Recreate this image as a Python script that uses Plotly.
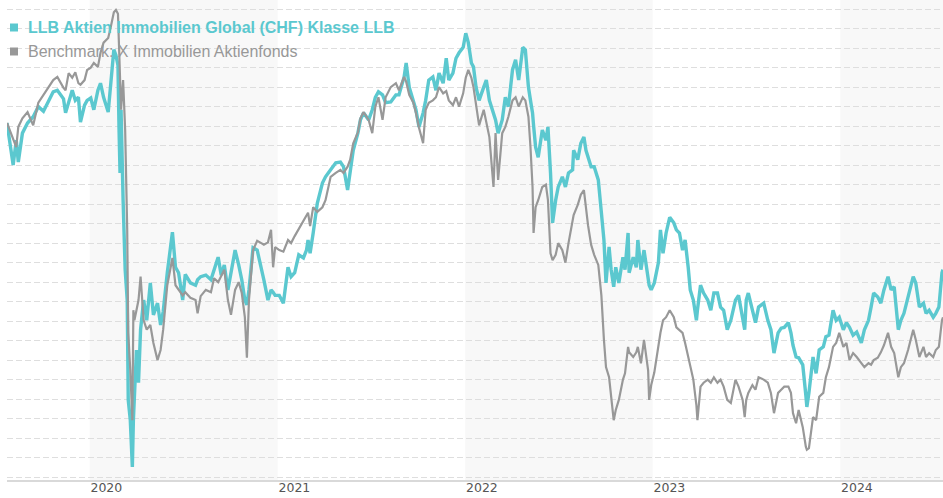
import plotly.graph_objects as go

# ---- data (performance in %) ----
dates = [
 "2019-07-24","2019-08-05","2019-08-11","2019-08-15","2019-08-23","2019-09-02","2019-09-13","2019-09-23",
 "2019-10-03","2019-10-12","2019-10-22","2019-10-30","2019-11-05","2019-11-11","2019-11-15","2019-11-21",
 "2019-11-28","2019-12-04","2019-12-10","2019-12-14","2019-12-22","2019-12-27","2020-01-03","2020-01-09",
 "2020-01-17","2020-01-22","2020-01-28","2020-02-06","2020-02-11","2020-02-17","2020-02-21","2020-02-25",
 "2020-02-27","2020-02-29","2020-03-01","2020-03-02","2020-03-06","2020-03-08","2020-03-10","2020-03-14",
 "2020-03-16","2020-03-20","2020-03-24","2020-03-26","2020-03-28","2020-04-01","2020-04-05","2020-04-09",
 "2020-04-15","2020-04-21","2020-04-28","2020-05-04","2020-05-12","2020-05-18","2020-05-23","2020-05-31",
 "2020-06-10","2020-06-16","2020-06-22","2020-06-30","2020-07-05","2020-07-15","2020-07-25","2020-07-29",
 "2020-08-04","2020-08-14","2020-08-24","2020-08-30","2020-09-07","2020-09-13","2020-09-19","2020-09-26",
 "2020-10-02","2020-10-10","2020-10-17","2020-10-23","2020-10-29","2020-11-02","2020-11-06","2020-11-14",
 "2020-11-22","2020-11-30","2020-12-05","2020-12-13","2020-12-19","2020-12-23","2020-12-27","2021-01-04",
 "2021-01-12","2021-01-21","2021-01-27","2021-02-03","2021-02-11","2021-02-20","2021-02-26","2021-03-01",
 "2021-03-05","2021-03-11","2021-03-19","2021-03-29","2021-04-04","2021-04-14","2021-04-24","2021-05-03",
 "2021-05-09","2021-05-17","2021-05-22","2021-05-28","2021-06-06","2021-06-11","2021-06-17","2021-06-27",
 "2021-07-04","2021-07-10","2021-07-16","2021-07-24","2021-07-30","2021-08-09","2021-08-19","2021-08-25",
 "2021-09-04","2021-09-08","2021-09-14","2021-09-22","2021-09-27","2021-10-03","2021-10-11","2021-10-16",
 "2021-10-22","2021-10-30","2021-11-05","2021-11-11","2021-11-19","2021-11-25","2021-11-30","2021-12-08",
 "2021-12-14","2021-12-20","2021-12-28","2022-01-02","2022-01-07","2022-01-13","2022-01-17","2022-01-22",
 "2022-01-28","2022-02-06","2022-02-11","2022-02-17","2022-02-25","2022-03-01","2022-03-06","2022-03-14",
 "2022-03-20","2022-03-26","2022-04-03","2022-04-09","2022-04-15","2022-04-23","2022-04-28","2022-05-04",
 "2022-05-08","2022-05-12","2022-05-14","2022-05-18","2022-05-23","2022-05-31","2022-06-07","2022-06-11",
 "2022-06-16","2022-06-20","2022-06-26","2022-07-01","2022-07-09","2022-07-15","2022-07-21","2022-07-29",
 "2022-07-31","2022-08-08","2022-08-14","2022-08-20","2022-08-24","2022-08-28","2022-09-03","2022-09-09",
 "2022-09-17","2022-09-23","2022-09-28","2022-10-02","2022-10-08","2022-10-12","2022-10-17","2022-10-21",
 "2022-10-27","2022-11-04","2022-11-08","2022-11-14","2022-11-16","2022-11-24","2022-11-30","2022-12-03",
 "2022-12-09","2022-12-15","2022-12-23","2022-12-25","2022-12-29","2023-01-04","2023-01-12","2023-01-16",
 "2023-01-21","2023-01-27","2023-02-03","2023-02-11","2023-02-16","2023-02-22","2023-02-28","2023-03-05",
 "2023-03-11","2023-03-15","2023-03-21","2023-03-27","2023-03-29","2023-04-04","2023-04-10","2023-04-18",
 "2023-04-24","2023-04-30","2023-05-07","2023-05-13","2023-05-19","2023-05-26","2023-06-02","2023-06-11",
 "2023-06-17","2023-06-25","2023-06-29","2023-07-02","2023-07-06","2023-07-14","2023-07-20","2023-07-26",
 "2023-08-05","2023-08-13","2023-08-19","2023-08-25","2023-09-02","2023-09-08","2023-09-14","2023-09-22",
 "2023-09-27","2023-10-01","2023-10-07","2023-10-12","2023-10-20","2023-10-26","2023-10-28","2023-11-01",
 "2023-11-09","2023-11-15","2023-11-21","2023-11-29","2023-12-04","2023-12-10","2023-12-18","2023-12-24",
 "2023-12-30","2024-01-07","2024-01-13","2024-01-19","2024-01-26","2024-02-02","2024-02-11","2024-02-17",
 "2024-02-25","2024-03-01","2024-03-06","2024-03-14","2024-03-20","2024-03-26","2024-04-03","2024-04-09",
 "2024-04-15","2024-04-23","2024-04-28","2024-05-04","2024-05-12","2024-05-18","2024-05-22","2024-05-27",
 "2024-06-03","2024-06-11","2024-06-16","2024-06-22","2024-06-30","2024-07-05","2024-07-11","2024-07-17",
 "2024-07-19",
]

llb = [
 0.0,-5.4,-2.2,-5.0,-1.3,0.0,0.8,2.1,
 1.5,2.6,4.0,4.2,3.6,3.1,1.3,2.6,
 4.2,2.9,3.3,0.1,2.3,2.9,3.2,1.7,
 4.2,5.1,3.3,1.4,5.6,9.4,8.7,7.4,
 -0.5,-6.4,-2.2,1.7,-9.9,-15.4,-18.8,-22.7,
 -35.5,-38.1,-44.1,-38.1,-35.5,-29.1,-33.3,-26.5,
 -22.7,-25.3,-20.5,-24.6,-23.1,-25.9,-24.2,-19.2,
 -14.0,-18.5,-19.2,-22.7,-19.4,-20.5,-20.8,-20.1,
 -19.7,-19.5,-20.1,-18.8,-17.2,-19.5,-18.2,-21.4,
 -19.2,-16.3,-18.2,-20.1,-22.7,-23.3,-21.4,-16.0,
 -16.3,-18.5,-20.1,-22.7,-21.4,-21.7,-22.1,-22.1,
 -23.1,-18.5,-19.7,-19.2,-16.9,-17.3,-16.3,-15.0,
 -16.7,-14.1,-10.3,-7.7,-6.9,-6.0,-5.1,-5.0,
 -5.6,-8.6,-6.4,-3.5,-1.3,0.4,1.3,0.4,
 1.7,3.3,4.0,3.6,2.6,2.7,3.6,3.6,
 5.9,7.7,4.6,2.9,1.7,-0.5,1.3,2.9,
 5.5,5.9,4.2,6.4,5.1,8.3,5.5,6.4,
 8.3,9.0,9.7,11.5,10.3,7.7,7.2,4.6,
 2.9,4.6,5.5,2.9,1.3,0.4,-1.3,0.4,
 3.3,2.1,6.8,8.1,5.5,9.7,9.4,4.6,
 2.9,1.3,-0.3,-3.1,-4.4,-0.9,-2.2,-0.5,
 -6.4,-12.8,-9.9,-8.2,-6.9,-8.2,-6.4,-6.0,
 -3.5,-4.7,-2.6,-1.8,-3.5,-4.4,-5.6,-5.6,
 -7.3,-11.5,-15.0,-20.5,-15.9,-18.8,-21.0,-18.5,
 -20.5,-17.2,-18.8,-14.1,-19.2,-17.2,-18.5,-15.0,
 -18.8,-16.3,-20.5,-20.8,-21.4,-20.5,-17.9,-13.7,
 -16.7,-14.1,-12.1,-12.8,-13.7,-14.1,-16.3,-15.0,
 -18.5,-21.4,-22.7,-25.3,-24.0,-20.8,-21.8,-22.7,
 -24.0,-21.8,-21.8,-23.6,-24.0,-26.5,-25.3,-22.7,
 -22.1,-25.3,-26.5,-22.7,-21.8,-24.0,-25.6,-23.6,
 -23.1,-25.3,-26.5,-29.5,-26.9,-26.3,-26.2,-25.6,
 -26.9,-28.5,-30.0,-30.1,-31.0,-34.9,-36.4,-34.6,
 -30.0,-32.1,-29.1,-28.7,-27.4,-27.2,-24.0,-25.3,
 -24.9,-26.5,-25.6,-26.2,-27.2,-26.8,-28.2,-26.5,
 -25.3,-23.6,-21.8,-22.3,-23.1,-21.4,-19.7,-21.4,
 -21.0,-26.5,-25.3,-24.4,-22.3,-21.0,-19.7,-20.5,
 -23.6,-23.1,-24.4,-24.0,-24.9,-24.4,-23.6,-19.2,
 -18.8,
]

benchmark = [
 0.0,-2.2,-3.1,-0.5,0.6,1.4,-0.3,2.6,
 3.6,4.5,5.5,5.9,5.1,4.5,4.2,6.4,
 5.8,6.5,5.1,4.9,5.5,6.8,7.1,7.7,
 7.2,9.0,10.3,10.9,12.3,14.2,14.5,14.0,
 10.0,6.8,5.5,1.7,5.5,1.7,-0.9,-13.7,
 -26.9,-31.7,-38.1,-24.0,-25.3,-24.0,-22.7,-19.7,
 -25.3,-26.5,-25.9,-28.2,-30.4,-29.1,-26.5,-20.8,
 -17.3,-20.8,-21.4,-22.1,-21.7,-22.4,-22.7,-24.4,
 -22.2,-21.4,-21.7,-19.9,-20.4,-19.5,-18.8,-22.7,
 -24.6,-21.4,-20.4,-21.8,-24.9,-30.1,-22.7,-16.3,
 -15.1,-15.4,-15.6,-15.3,-13.7,-18.5,-15.9,-16.3,
 -16.5,-15.0,-15.4,-14.5,-13.6,-12.4,-11.9,-11.5,
 -13.2,-10.8,-11.4,-10.8,-9.9,-6.9,-6.4,-6.0,
 -6.4,-5.6,-4.7,-2.6,-1.2,0.6,1.4,0.4,
 -1.3,2.1,3.3,0.4,3.3,4.6,5.1,4.2,
 5.9,5.3,3.6,2.6,1.3,-0.6,-2.6,1.7,
 2.6,2.9,3.3,4.6,3.8,4.1,2.9,2.3,
 3.3,2.1,3.8,5.8,6.8,5.8,4.6,2.1,
 -0.3,1.7,0.0,-1.8,-8.2,-1.3,-7.3,-1.3,
 -0.5,0.8,2.9,3.3,2.1,3.3,2.9,0.8,
 -3.1,-8.2,-14.1,-10.8,-9.9,-8.2,-7.9,-9.9,
 -16.7,-17.6,-16.9,-15.4,-16.3,-17.9,-15.4,-12.4,
 -11.8,-10.5,-9.2,-8.6,-11.2,-13.1,-15.6,-16.9,
 -18.2,-22.1,-27.8,-31.3,-32.6,-35.1,-38.1,-36.8,
 -35.5,-32.9,-32.1,-28.7,-29.4,-30.0,-29.4,-28.7,
 -30.8,-27.8,-31.7,-35.5,-33.6,-32.0,-28.5,-26.9,
 -25.3,-24.9,-24.0,-24.9,-26.2,-26.5,-26.9,-28.2,
 -30.0,-31.0,-32.9,-36.2,-38.1,-33.8,-33.3,-32.9,
 -33.3,-32.6,-33.3,-32.9,-33.8,-35.5,-35.9,-32.9,
 -33.8,-35.5,-37.7,-35.5,-34.6,-33.6,-34.2,-32.6,
 -32.9,-33.3,-34.6,-37.2,-34.6,-34.2,-33.8,-33.8,
 -34.6,-37.2,-38.5,-36.8,-39.0,-41.5,-41.9,-41.7,
 -37.7,-38.1,-35.1,-34.6,-32.6,-31.3,-28.7,-28.2,
 -26.9,-28.7,-28.2,-30.4,-29.5,-30.0,-30.8,-31.3,
 -30.8,-31.0,-30.4,-30.1,-29.4,-28.5,-26.9,-28.7,
 -29.5,-32.6,-31.3,-30.8,-29.1,-27.4,-26.5,-27.8,
 -30.0,-28.7,-30.0,-29.5,-30.0,-29.1,-28.7,-25.3,
 -24.9,
]

series_names = ["LLB Aktien Immobilien Global (CHF) Klasse LLB",
                "Benchmark: X Immobilien Aktienfonds"]
tick_dates = ["2020-01-01", "2021-01-01", "2022-01-01", "2023-01-01", "2024-01-01"]
tick_labels = ["2020", "2021", "2022", "2023", "2024"]
shaded_years = [("2020-01-01", "2021-01-01"), ("2022-01-01", "2023-01-01"),
                ("2024-01-01", "2024-07-19")]

TEAL = "#5bc8cf"
GREY = "#989898"

fig = go.Figure()
fig.add_trace(go.Scatter(x=dates, y=llb, mode="lines", name=series_names[0],
                         line=dict(color=TEAL, width=3.4), showlegend=False))
fig.add_trace(go.Scatter(x=dates, y=benchmark, mode="lines", name=series_names[1],
                         line=dict(color=GREY, width=2.2), showlegend=False))

shapes = []
for a, b in shaded_years:
    shapes.append(dict(type="rect", xref="x", yref="paper", x0=a, x1=b, y0=0, y1=1,
                       fillcolor="#f8f8f8", line=dict(width=0), layer="below"))

# legend (square markers + labels)
annotations = []
for i, (name, col, bold) in enumerate([(series_names[0], TEAL, True),
                                       (series_names[1], GREY, False)]):
    cy = 27.5 + 24 * i
    shapes.append(dict(type="rect", xref="paper", yref="paper",
                       xsizemode="pixel", ysizemode="pixel",
                       xanchor=0, yanchor=1, x0=3, x1=11, y0=-(cy - 4), y1=-(cy + 4),
                       fillcolor=col, line=dict(width=0), layer="above"))
    annotations.append(dict(xref="paper", yref="paper", x=0, y=1, xanchor="left",
                            yanchor="middle", xshift=18.5, yshift=-cy,
                            text=("<b>%s</b>" % name) if bold else name, showarrow=False,
                            font=dict(family="Liberation Sans, Arial, sans-serif",
                                      size=16, color=col)))

fig.update_layout(
    width=943, height=498,
    margin=dict(l=7, r=0, t=0, b=18),
    paper_bgcolor="white", plot_bgcolor="white",
    shapes=shapes, annotations=annotations,
    showlegend=False,
    xaxis=dict(type="date", range=["2019-07-24", "2024-07-19"],
               showgrid=False, zeroline=False, automargin=False,
               showline=True, linecolor="#d9d9d9", linewidth=1.5,
               ticks="", tickvals=tick_dates, ticktext=tick_labels,
               ticklabelposition="outside right", ticklabelstandoff=-5,
               tickfont=dict(family="DejaVu Sans, Verdana, sans-serif", size=12.5,
                             color="#555555")),
    yaxis=dict(range=[-45.77, 15.77], showticklabels=False, ticks="",
               zeroline=False, showline=False, automargin=False,
               showgrid=True, gridcolor="#dedede", gridwidth=1, griddash="6px,3px",
               tick0=-45.385, dtick=2.5),
)

fig.write_html(
    "out.html",
    config={"displayModeBar": False},
    post_script=("document.documentElement.style.margin='0';"
                 "document.body.style.margin='0';"
                 "document.body.style.overflow='hidden';"
                 "document.documentElement.style.overflow='hidden';"),
)
